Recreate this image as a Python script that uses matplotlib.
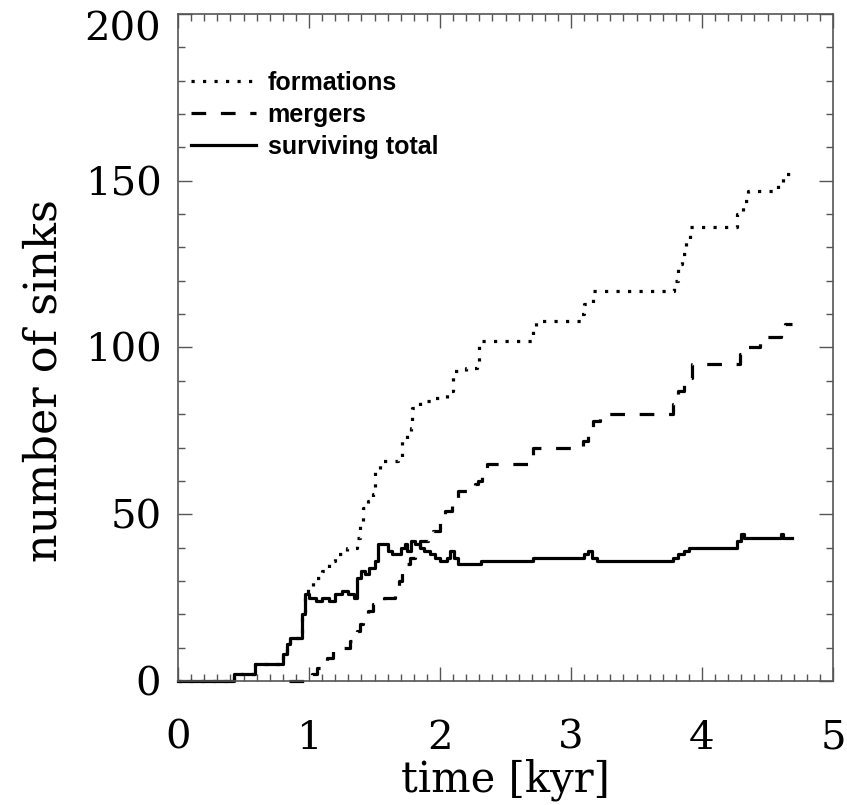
import matplotlib
matplotlib.use("Agg")
import matplotlib.pyplot as plt
from matplotlib.ticker import MultipleLocator
from matplotlib.transforms import ScaledTranslation

# ---- data ----
surv_t = [0, 0.43, 0.59, 0.80, 0.83, 0.855, 0.95, 0.97, 1.00, 1.05, 1.10, 1.15, 1.20, 1.25,
          1.30, 1.34, 1.37, 1.40, 1.43, 1.46, 1.50, 1.53, 1.60, 1.63, 1.70, 1.73, 1.75,
          1.78, 1.81, 1.85, 1.88, 1.92, 1.96, 2.00, 2.05, 2.08, 2.11, 2.14, 2.31, 2.71,
          3.10, 3.13, 3.16, 3.20, 3.78, 3.82, 3.86, 3.90, 4.27, 4.30, 4.32, 4.60, 4.62, 4.69]
surv_n = [0, 2, 5, 8, 11, 13, 20, 26, 25, 24, 25, 24, 26, 27,
          26, 25, 31, 33, 32, 34, 36, 41, 39, 38, 40, 41, 39,
          42, 41, 40, 39, 38, 37, 36, 37, 39, 37, 35, 36, 37,
          38, 39, 37, 36, 37, 38, 39, 40, 42, 44, 43, 44, 43, 43]

form_t = [0, 0.43, 0.59, 0.80, 0.83, 0.855, 0.95, 0.97, 0.99, 1.03, 1.10, 1.15, 1.20, 1.29,
          1.37, 1.39, 1.41, 1.45, 1.49, 1.50, 1.54, 1.68, 1.71, 1.75, 1.78, 1.79, 1.85,
          1.95, 2.05, 2.08, 2.10, 2.20, 2.28, 2.30, 2.71, 2.73, 3.08, 3.10, 3.17, 3.79,
          3.82, 3.85, 3.88, 3.91, 4.27, 4.31, 4.35, 4.58, 4.62, 4.69]
form_n = [0, 2, 5, 8, 11, 13, 20, 26, 28, 31, 33, 36, 38, 40,
          43, 47, 52, 54, 56, 63, 66, 67, 72, 74, 76, 82, 84,
          85, 86, 87, 93, 94, 95, 102, 105, 108, 110, 113, 117, 120,
          125, 128, 132, 136, 140, 144, 147, 149, 152, 152]

merg_t = [0.85, 0.98, 1.02, 1.06, 1.10, 1.14, 1.18, 1.21, 1.31, 1.35, 1.37, 1.39, 1.41,
          1.45, 1.49, 1.57, 1.66, 1.69, 1.71, 1.73, 1.77, 1.81, 1.85, 1.91, 1.95, 2.00,
          2.04, 2.09, 2.14, 2.27, 2.29, 2.32, 2.36, 2.69, 2.71, 3.09, 3.13, 3.17, 3.22,
          3.78, 3.82, 3.86, 3.92, 4.29, 4.33, 4.44, 4.60, 4.63, 4.69]
merg_n = [0, 1, 2, 4, 5, 7, 9, 10, 12, 14, 15, 17, 19,
          21, 23, 25, 27, 30, 33, 35, 37, 40, 42, 44, 45, 48,
          51, 55, 57, 59, 60, 63, 65, 66, 70, 72, 75, 78, 80,
          83, 87, 91, 95, 98, 100, 103, 105, 107, 107]

labels = ["formations", "mergers", "surviving total"]
x_ticks = [0, 1, 2, 3, 4, 5]
y_ticks = [0, 50, 100, 150, 200]

# ---- figure ----
fig = plt.figure(figsize=(8.47, 8.05), dpi=100)
ax = fig.add_axes([178/847, 1-681/805, (833-178)/847, (681-14)/805])

lw = 2.3
ax.plot(form_t, form_n, drawstyle="steps-post", color="black", lw=lw,
        linestyle=(0, (1.0, 2.6)), dash_capstyle="butt", label=labels[0], clip_on=False)
ax.plot(merg_t, merg_n, drawstyle="steps-post", color="black", lw=lw,
        linestyle=(0, (4.6, 4.6)), dash_capstyle="butt", label=labels[1], clip_on=False)
ax.plot(surv_t, surv_n, drawstyle="steps-post", color="black", lw=lw,
        linestyle="-", label=labels[2], clip_on=False)

ax.set_xlim(0, 5)
ax.set_ylim(0, 200)
ax.set_xticks(x_ticks)
ax.set_yticks(y_ticks)
ax.xaxis.set_minor_locator(MultipleLocator(0.1))
ax.yaxis.set_minor_locator(MultipleLocator(10))

frame_c = "#555555"
for s in ax.spines.values():
    s.set_color(frame_c)
    s.set_linewidth(1.2)
ax.tick_params(which="both", direction="in", top=True, right=True, color=frame_c, width=1.0)
ax.tick_params(which="major", length=10)
ax.tick_params(which="minor", length=5)
ax.tick_params(axis="x", which="major", pad=28)
ax.tick_params(axis="y", which="major", pad=12)
for lab in ax.get_xticklabels() + ax.get_yticklabels():
    lab.set_family("DejaVu Serif")
    lab.set_fontsize(29)
# top y label sits a little lower so it stays inside the picture
top_lab = ax.get_yticklabels()[-1]
top_lab.set_transform(top_lab.get_transform() + ScaledTranslation(0, -9/72, fig.dpi_scale_trans))

ax.set_xlabel("time [kyr]", family="DejaVu Serif", fontsize=30, labelpad=1)
ax.set_ylabel("number of sinks", family="DejaVu Serif", fontsize=32)
ax.yaxis.set_label_coords(-0.172, 0.45)

leg = ax.legend(loc="upper left", frameon=False, handlelength=2.6, handletextpad=0.45,
                labelspacing=0.33, borderaxespad=0.0, bbox_to_anchor=(0.005, 0.93),
                prop={"family": "Liberation Sans", "weight": "bold", "size": 18})

fig.savefig("out.png", dpi=100)
